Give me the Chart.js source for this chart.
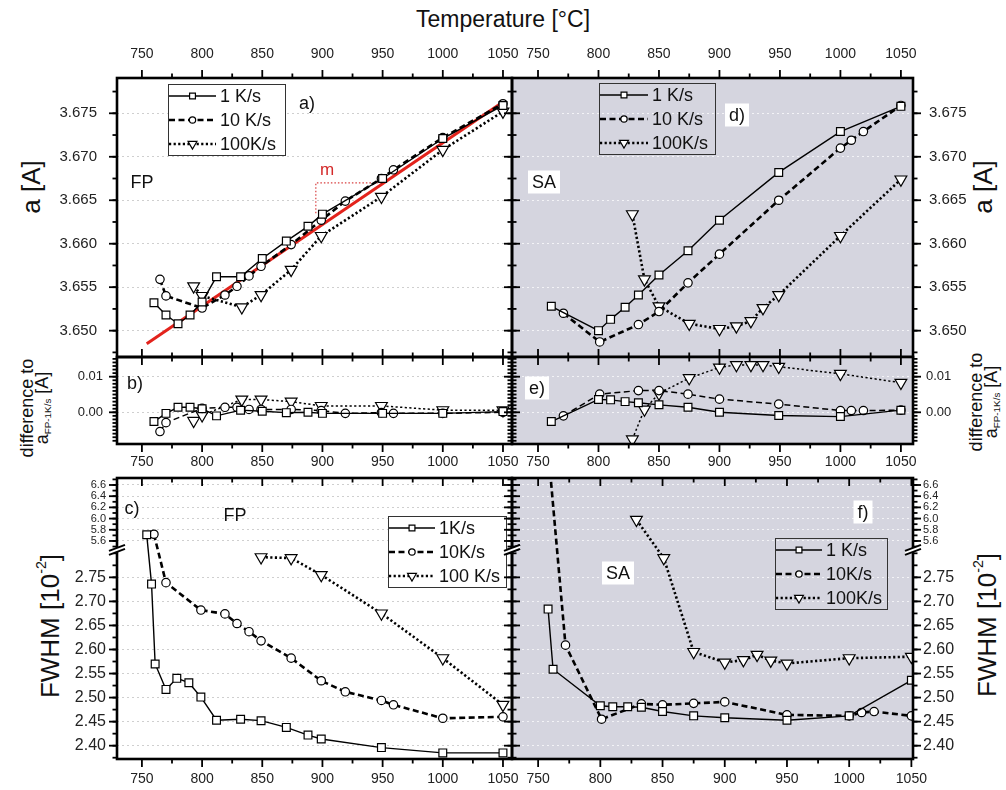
<!DOCTYPE html>
<html lang="en">
<head>
<meta charset="UTF-8">
<title>Lattice parameter and FWHM vs. temperature</title>
<script src="https://cdn.jsdelivr.net/npm/chart.js"></script>
<style>
  body { margin: 0; width: 1006px; height: 790px; position: relative; overflow: hidden; background: #fff;
         font-family: "Liberation Sans", Arial, sans-serif; color: #111; }
  canvas { position: absolute; }
  .lbl { position: absolute; white-space: nowrap; transform: translate(-50%, -50%); }
  .rot { transform: translate(-50%, -50%) rotate(-90deg); text-align: center; }
  sub { font-size: 55%; line-height: 0; vertical-align: -0.35em; }
  sup { font-size: 55%; line-height: 0; vertical-align: 0.9em; }
</style>
</head>
<body>
<div class="lbl" style="left:503px; top:19px; font-size:23px">Temperature [°C]</div>
<div class="lbl rot" style="left:31px; top:187px; font-size:26px">a [A]</div>
<div class="lbl rot" style="left:983px; top:187px; font-size:26px">a [A]</div>
<div class="lbl rot" style="left:35px; top:408px; font-size:18px; line-height:15px">difference to<br>a<sub>FP-1K/s</sub> [A]</div>
<div class="lbl rot" style="left:984px; top:402px; font-size:18px; line-height:15px">difference to<br>a<sub>FP-1K/s</sub> [A]</div>
<div class="lbl rot" style="left:50px; top:626px; font-size:26px">FWHM [10<sup>-2</sup>]</div>
<div class="lbl rot" style="left:987px; top:625px; font-size:26px">FWHM [10<sup>-2</sup>]</div>

<script>
const FONT = '"Liberation Sans", Arial, sans-serif';
Chart.defaults.font.family = FONT;
Chart.defaults.color = '#222';

// ---- axes ----
const xTicks = [750, 800, 850, 900, 950, 1000, 1050];
const aTicks = [3.650, 3.655, 3.660, 3.665, 3.670, 3.675];
const diffTicks = [0.00, 0.01];
const fwhmTicks = [2.40, 2.45, 2.50, 2.55, 2.60, 2.65, 2.70, 2.75, 5.6, 5.8, 6.0, 6.2, 6.4, 6.6];

// a) lattice parameter, FP
const fpT1 = [760, 770, 780, 790, 800, 812, 832, 850, 870, 888, 900, 950, 1000, 1050];
const fpA1 = [3.6532, 3.6518, 3.6508, 3.6518, 3.6533, 3.6562, 3.6562, 3.6583, 3.6603, 3.6620, 3.6634, 3.6675, 3.6721, 3.6759];
const fpT10 = [765, 770, 800, 819, 829, 839, 849, 874, 899, 919, 949, 959, 1000, 1050];
const fpA10 = [3.6559, 3.6540, 3.6526, 3.6541, 3.6551, 3.6563, 3.6574, 3.6599, 3.6627, 3.6649, 3.6675, 3.6685, 3.6722, 3.6761];
const fpT100 = [793, 800, 833, 849, 874, 899, 949, 1000, 1050];
const fpA100 = [3.6551, 3.6540, 3.6527, 3.6541, 3.6570, 3.6609, 3.6654, 3.6708, 3.6752];
const fitT = [754, 1050];
const fitA = [3.6485, 3.6763];
const slopeT = [894.5, 894.5, 948];
const slopeA = [3.6635, 3.6670, 3.6670];

// d) lattice parameter, SA
const saT1 = [761, 800, 810, 822, 833, 850, 874, 900, 949, 1000, 1050];
const saA1 = [3.6528, 3.6500, 3.6513, 3.6527, 3.6541, 3.6564, 3.6592, 3.6627, 3.6682, 3.6729, 3.6758];
const saT10 = [771, 801, 833, 850, 874, 900, 949, 1000, 1009, 1019, 1050];
const saA10 = [3.6520, 3.6487, 3.6507, 3.6522, 3.6555, 3.6588, 3.6650, 3.6710, 3.6719, 3.6729, 3.6759];
const saT100 = [828, 838, 850, 875, 900, 914, 926, 936, 949, 1000, 1050];
const saA100 = [3.6634, 3.6559, 3.6528, 3.6508, 3.6502, 3.6505, 3.6511, 3.6526, 3.6541, 3.6609, 3.6674];

// b) difference, FP (same temperatures as a)
const fpD1 = [-0.0026, -0.0003, 0.0014, 0.0014, 0.0010, -0.0010, 0.0006, 0.0003, -0.0001, 0.0000, -0.0003, -0.0003, -0.0003, 0.0002];
const fpD10 = [-0.0054, -0.0029, 0.0011, 0.0014, 0.0014, 0.0008, 0.0008, 0.0008, 0.0005, -0.0003, -0.0001, -0.0003, -0.0003, 0.0000];
const fpD100 = [-0.0024, -0.0008, 0.0036, 0.0036, 0.0030, 0.0018, 0.0018, 0.0006, 0.0006];

// e) difference, SA (same temperatures as d)
const saD1 = [-0.0026, 0.0036, 0.0035, 0.0030, 0.0027, 0.0021, 0.0014, 0.0000, -0.0009, -0.0012, 0.0006];
const saD10 = [-0.0010, 0.0051, 0.0061, 0.0061, 0.0051, 0.0037, 0.0023, 0.0005, 0.0005, 0.0005, 0.0006];
const saD100 = [-0.0076, 0.0008, 0.0053, 0.0096, 0.0126, 0.0133, 0.0133, 0.0133, 0.0128, 0.0108, 0.0083];

// c) FWHM, FP
const fpWT1 = [754, 758, 761, 770, 779, 789, 799, 812, 832, 849, 870, 888, 899, 949, 1000, 1050];
const fpW1 = [5.71, 2.736, 2.570, 2.517, 2.540, 2.531, 2.501, 2.453, 2.455, 2.452, 2.438, 2.422, 2.414, 2.396, 2.385, 2.385];
const fpWT10 = [760, 770, 799, 819, 829, 839, 849, 874, 899, 919, 949, 959, 1000, 1050];
const fpW10 = [5.72, 2.739, 2.682, 2.674, 2.654, 2.637, 2.618, 2.582, 2.535, 2.512, 2.494, 2.485, 2.457, 2.460];
const fpWT100 = [849, 874, 899, 949, 1000, 1050];
const fpW100 = [2.792, 2.790, 2.755, 2.675, 2.582, 2.485];

// f) FWHM, SA
const saWT1 = [758, 762, 800, 810, 822, 833, 850, 875, 900, 950, 1000, 1050];
const saW1 = [2.684, 2.559, 2.483, 2.481, 2.481, 2.480, 2.471, 2.462, 2.458, 2.453, 2.462, 2.536];
const saWT10 = [757, 772, 801, 833, 850, 875, 900, 950, 1000, 1010, 1020, 1050];
const saW10 = [7.5, 2.609, 2.455, 2.487, 2.485, 2.488, 2.491, 2.464, 2.462, 2.469, 2.471, 2.462];
const saWT100 = [829, 851, 875, 900, 915, 926, 937, 950, 1000, 1050];
const saW100 = [5.98, 2.79, 2.595, 2.573, 2.578, 2.589, 2.577, 2.571, 2.582, 2.585];

// broken FWHM axis: lower and upper value ranges, and where they sit (fraction of height)
const FWHM_BREAK = { lo: [2.3723, 2.80], hi: [5.50, 6.725], loFrac: 0.732, hiFrac: 0.756 };

class BrokenScale extends Chart.LinearScale {
  getPixelForValue(v) {
    const B = FWHM_BREAK;
    let f;
    if (v <= B.lo[1]) f = (v - B.lo[0]) / (B.lo[1] - B.lo[0]) * B.loFrac;
    else if (v >= B.hi[0]) f = B.hiFrac + (v - B.hi[0]) / (B.hi[1] - B.hi[0]) * (1 - B.hiFrac);
    else f = B.loFrac + (v - B.lo[1]) / (B.hi[0] - B.lo[1]) * (B.hiFrac - B.loFrac);
    return this.bottom - f * (this.bottom - this.top);
  }
  getValueForPixel(px) {
    const B = FWHM_BREAK, f = (this.bottom - px) / (this.bottom - this.top);
    if (f <= B.loFrac) return B.lo[0] + f / B.loFrac * (B.lo[1] - B.lo[0]);
    if (f >= B.hiFrac) return B.hi[0] + (f - B.hiFrac) / (1 - B.hiFrac) * (B.hi[1] - B.hi[0]);
    return B.lo[1] + (f - B.loFrac) / (B.hiFrac - B.loFrac) * (B.hi[0] - B.lo[1]);
  }
}
BrokenScale.id = 'broken';
BrokenScale.defaults = Chart.LinearScale.defaults;
Chart.register(BrokenScale);

const GREY = '#d5d5df';
const LOOK = [
  { pointStyle: 'rect', pointRadius: 5.5, dash: [], width: 1.4 },
  { pointStyle: 'circle', pointRadius: 4.2, dash: [6, 3.5], width: 2.6 },
  { pointStyle: 'triangle', pointRadius: 6.8, rot: 180, dash: [2.2, 2.4], width: 2.6 }
];

function series(label, T, V, k, thin) {
  const s = LOOK[k];
  return {
    label, data: T.map((t, i) => ({ x: t, y: V[i] })),
    borderColor: '#000', borderWidth: thin ? Math.min(s.width, 1.5) : s.width, borderDash: s.dash,
    pointStyle: s.pointStyle, pointRadius: s.pointRadius, pointRotation: s.rot || 0,
    pointBackgroundColor: '#fff', pointBorderColor: '#000', pointBorderWidth: 1.2, tension: 0
  };
}

function decor(p) {
  const mark = (ctx, x1, y1, x2, y2) => { ctx.beginPath(); ctx.moveTo(x1, y1); ctx.lineTo(x2, y2); ctx.stroke(); };
  return {
    id: 'decor',
    beforeDraw(chart) {
      if (!p.bg) return;
      const { ctx, chartArea: ca } = chart;
      ctx.save(); ctx.fillStyle = p.bg; ctx.fillRect(ca.left, ca.top, ca.width, ca.height); ctx.restore();
    },
    afterDatasetsDraw(chart) {
      const { ctx, chartArea: ca } = chart;
      ctx.save();
      (p.notes || []).forEach(n => {
        const size = n.size || 18;
        ctx.font = size + 'px ' + FONT;
        const x = ca.left + n.x, y = ca.top + n.y;
        if (n.box) {
          const w = ctx.measureText(n.t).width + 8, h = size + 5;
          ctx.fillStyle = '#fff'; ctx.fillRect(x - w / 2, y - h / 2, w, h);
        }
        ctx.fillStyle = n.color || '#111'; ctx.textAlign = 'center'; ctx.textBaseline = 'middle';
        ctx.fillText(n.t, x, y + 1);
      });
      const L = p.legend;
      if (L) {
        const bx = ca.left + L.x, by = ca.top + L.y;
        if (L.fill) { ctx.fillStyle = L.fill; ctx.fillRect(bx, by, L.w, L.h); }
        ctx.strokeStyle = '#333'; ctx.lineWidth = 1; ctx.strokeRect(bx + 0.5, by + 0.5, L.w, L.h);
        chart.data.datasets.filter(d => d.label).forEach((d, i) => {
          const y = by + 12 + i * 24;
          ctx.strokeStyle = '#000'; ctx.lineWidth = d.borderWidth; ctx.setLineDash(d.borderDash);
          mark(ctx, bx + 1, y, bx + 1 + L.sw, y);
          ctx.setLineDash([]); ctx.lineWidth = 1.2; ctx.fillStyle = '#fff';
          Chart.helpers.drawPoint(ctx, { pointStyle: d.pointStyle, rotation: d.pointRotation, radius: d.pointRadius * 0.75, borderWidth: 1.2 }, bx + 1 + L.sw / 2, y);
          ctx.fillStyle = '#111'; ctx.font = '18px ' + FONT; ctx.textAlign = 'left'; ctx.textBaseline = 'middle';
          ctx.fillText(d.label, bx + L.sw + 5, y + 1);
        });
      }
      ctx.restore();
    },
    afterDraw(chart) {
      const { ctx, chartArea: ca, scales: { x, y } } = chart;
      const S = p.sides;
      ctx.save();
      ctx.strokeStyle = '#000'; ctx.lineWidth = 1.8;
      const xs = xTicks.map(v => [v, 8]);
      for (let v = 725; v <= x.max; v += 50) if (v >= x.min) xs.push([v, 4.5]);
      xs.forEach(([v, len]) => {
        const px = x.getPixelForValue(v);
        if (px < ca.left - 0.5 || px > ca.right + 0.5) return;
        mark(ctx, px, ca.top, px, ca.top + (S.top === 'out' ? -len : len));
        mark(ctx, px, ca.bottom, px, ca.bottom + (S.bottom === 'out' ? len : -len));
      });
      const ys = y.ticks.map(t => [t.value, 8]);
      (p.yMinor || []).forEach(([from, to, step]) => { for (let v = from; v <= to + 1e-9; v += step) ys.push([v, 4.5]); });
      ys.forEach(([v, len]) => {
        const py = y.getPixelForValue(v);
        if (py < ca.top - 0.5 || py > ca.bottom + 0.5) return;
        mark(ctx, ca.left, py, ca.left + (S.left === 'out' ? -len : len), py);
        mark(ctx, ca.right, py, ca.right + (S.right === 'out' ? len : -len), py);
      });
      ctx.lineWidth = 2.6;
      ctx.strokeRect(ca.left, ca.top, ca.width, ca.height);
      if (p.broken) {
        const py = y.getPixelForValue((FWHM_BREAK.lo[1] + FWHM_BREAK.hi[0]) / 2);
        [ca.left, ca.right].forEach(px => {
          ctx.fillStyle = '#fff';
          ctx.beginPath(); ctx.moveTo(px - 8, py + 1); ctx.lineTo(px + 8, py - 5); ctx.lineTo(px + 8, py - 1); ctx.lineTo(px - 8, py + 5); ctx.closePath(); ctx.fill();
          ctx.lineWidth = 2;
          mark(ctx, px - 8, py + 1, px + 8, py - 5);
          mark(ctx, px - 8, py + 5, px + 8, py - 1);
        });
      }
      ctx.restore();
    }
  };
}

const E = 70, YW = 60, XH = 30;
function panel(p) {
  const w = p.r - p.l, h = p.b - p.t;
  const cv = document.createElement('canvas');
  cv.width = w + 2 * E; cv.height = h + 2 * E;
  cv.style.left = (p.l - E) + 'px'; cv.style.top = (p.t - E) + 'px';
  document.body.appendChild(cv);
  const pad = { left: E, right: E, top: E, bottom: E };
  pad[p.yPos] -= YW; pad[p.xPos] -= XH;
  new Chart(cv, {
    type: 'line',
    data: { datasets: p.datasets },
    options: {
      responsive: false, animation: false, devicePixelRatio: 1, events: [],
      layout: { padding: pad },
      plugins: { legend: { display: false }, tooltip: { enabled: false } },
      scales: {
        x: {
          type: 'linear', position: p.xPos, min: p.xMin, max: p.xMax,
          afterBuildTicks: s => { s.ticks = xTicks.map(v => ({ value: v })); },
          afterFit: s => { s.height = XH; },
          grid: { display: false, drawTicks: false }, border: { display: false },
          ticks: { padding: p.xPad, maxRotation: 0, autoSkip: false, color: '#222', font: { size: 14 }, callback: v => String(v) }
        },
        y: {
          type: p.broken ? 'broken' : 'linear', position: p.yPos, min: p.yMin, max: p.yMax,
          afterBuildTicks: s => { s.ticks = p.yTicks.map(v => ({ value: v })); },
          afterFit: s => { s.width = YW; },
          grid: { color: p.bg ? 'rgba(255,255,255,0.7)' : '#cfcfcf', drawTicks: false, lineWidth: 1 },
          border: { display: false, dash: [2, 3] },
          ticks: { padding: p.yPad, autoSkip: false, color: '#222', font: p.yFont, callback: p.yFmt }
        }
      }
    },
    plugins: [decor(p)]
  });
}

const fmt3 = v => v.toFixed(3), fmt2 = v => v.toFixed(2);
const fmtW = v => (v > 4 ? v.toFixed(1) : v.toFixed(2));
const fontW = c => ({ size: c.tick && c.tick.value > 4 ? 11 : 16 });
const LEFTX = { xMin: 729.3, xMax: 1057.5 };

// grey (SA) panels first so the white panels' outer ticks stay visible
panel({ l: 512, t: 78, r: 913, b: 357, xPos: 'top', yPos: 'right', xMin: 728.5, xMax: 1060, xPad: 15,
  yMin: 3.64697, yMax: 3.67906, yTicks: aTicks, yFmt: fmt3, yFont: { size: 15 }, yPad: 16, bg: GREY,
  yMinor: [[3.6475, 3.6775, 0.0025]], sides: { top: 'out', right: 'out', left: 'in', bottom: 'in' },
  legend: { x: 87, y: 5, w: 116, h: 71, sw: 48 },
  notes: [{ t: 'd)', x: 225, y: 37, box: true }, { t: 'SA', x: 32, y: 104, box: true }],
  datasets: [series('1 K/s', saT1, saA1, 0), series('10 K/s', saT10, saA10, 1), series('100K/s', saT100, saA100, 2)] });

panel({ l: 512, t: 357, r: 913, b: 444, xPos: 'bottom', yPos: 'right', xMin: 728.5, xMax: 1060, xPad: 10,
  yMin: -0.0089, yMax: 0.01553, yTicks: diffTicks, yFmt: fmt2, yFont: { size: 13 }, yPad: 13, bg: GREY,
  yMinor: [[-0.008, 0.015, 0.001]], sides: { top: 'in', right: 'out', left: 'in', bottom: 'out' },
  notes: [{ t: 'e)', x: 25, y: 31, box: true }],
  datasets: [series('', saT1, saD1, 0, true), series('', saT10, saD10, 1, true), series('', saT100, saD100, 2, true)] });

panel({ l: 512, t: 478, r: 913, b: 759, xPos: 'bottom', yPos: 'right', xMin: 729, xMax: 1051.3, xPad: 12, broken: true,
  yMin: FWHM_BREAK.lo[0], yMax: FWHM_BREAK.hi[1], yTicks: fwhmTicks, yFmt: fmtW, yFont: fontW, yPad: 10, bg: GREY,
  yMinor: [[2.375, 2.80, 0.025], [5.5, 6.7, 0.1]], sides: { top: 'in', right: 'out', left: 'in', bottom: 'out' },
  legend: { x: 263, y: 60, w: 112, h: 71, sw: 46 },
  notes: [{ t: 'f)', x: 351, y: 34, box: true }, { t: 'SA', x: 106, y: 95, box: true }],
  datasets: [series('1 K/s', saWT1, saW1, 0), series('10K/s', saWT10, saW10, 1), series('100K/s', saWT100, saW100, 2)] });

panel({ l: 117, t: 78, r: 512, b: 357, xPos: 'top', yPos: 'left', ...LEFTX, xPad: 15,
  yMin: 3.64697, yMax: 3.67906, yTicks: aTicks, yFmt: fmt3, yFont: { size: 15 }, yPad: 20,
  yMinor: [[3.6475, 3.6775, 0.0025]], sides: { top: 'out', left: 'out', right: 'in', bottom: 'in' },
  legend: { x: 51, y: 6, w: 117, h: 71, sw: 47, fill: '#fff' },
  notes: [{ t: 'a)', x: 190, y: 25 }, { t: 'FP', x: 25, y: 104 }, { t: 'm', x: 210, y: 91, size: 17, color: '#d42a2a' }],
  datasets: [series('1 K/s', fpT1, fpA1, 0), series('10 K/s', fpT10, fpA10, 1), series('100K/s', fpT100, fpA100, 2),
    { data: fitT.map((t, i) => ({ x: t, y: fitA[i] })), borderColor: '#e3231c', borderWidth: 3, pointRadius: 0, order: 1 },
    { data: slopeT.map((t, i) => ({ x: t, y: slopeA[i] })), borderColor: '#d84040', borderWidth: 1.2, borderDash: [1.5, 2], pointRadius: 0, order: 1 }] });

panel({ l: 117, t: 357, r: 512, b: 444, xPos: 'bottom', yPos: 'left', ...LEFTX, xPad: 10,
  yMin: -0.0089, yMax: 0.01553, yTicks: diffTicks, yFmt: fmt2, yFont: { size: 13 }, yPad: 14,
  yMinor: [[-0.008, 0.015, 0.001]], sides: { top: 'in', left: 'out', right: 'in', bottom: 'out' },
  notes: [{ t: 'b)', x: 18, y: 26 }],
  datasets: [series('', fpT1, fpD1, 0, true), series('', fpT10, fpD10, 1, true), series('', fpT100, fpD100, 2, true)] });

panel({ l: 117, t: 478, r: 512, b: 759, xPos: 'bottom', yPos: 'left', ...LEFTX, xPad: 12, broken: true,
  yMin: FWHM_BREAK.lo[0], yMax: FWHM_BREAK.hi[1], yTicks: fwhmTicks, yFmt: fmtW, yFont: fontW, yPad: 11,
  yMinor: [[2.375, 2.80, 0.025], [5.5, 6.7, 0.1]], sides: { top: 'in', left: 'out', right: 'in', bottom: 'out' },
  legend: { x: 271, y: 38, w: 118, h: 71, sw: 46, fill: '#fff' },
  notes: [{ t: 'c)', x: 15, y: 30 }, { t: 'FP', x: 118, y: 37 }],
  datasets: [series('1K/s', fpWT1, fpW1, 0), series('10K/s', fpWT10, fpW10, 1), series('100 K/s', fpWT100, fpW100, 2)] });
</script>
</body>
</html>
